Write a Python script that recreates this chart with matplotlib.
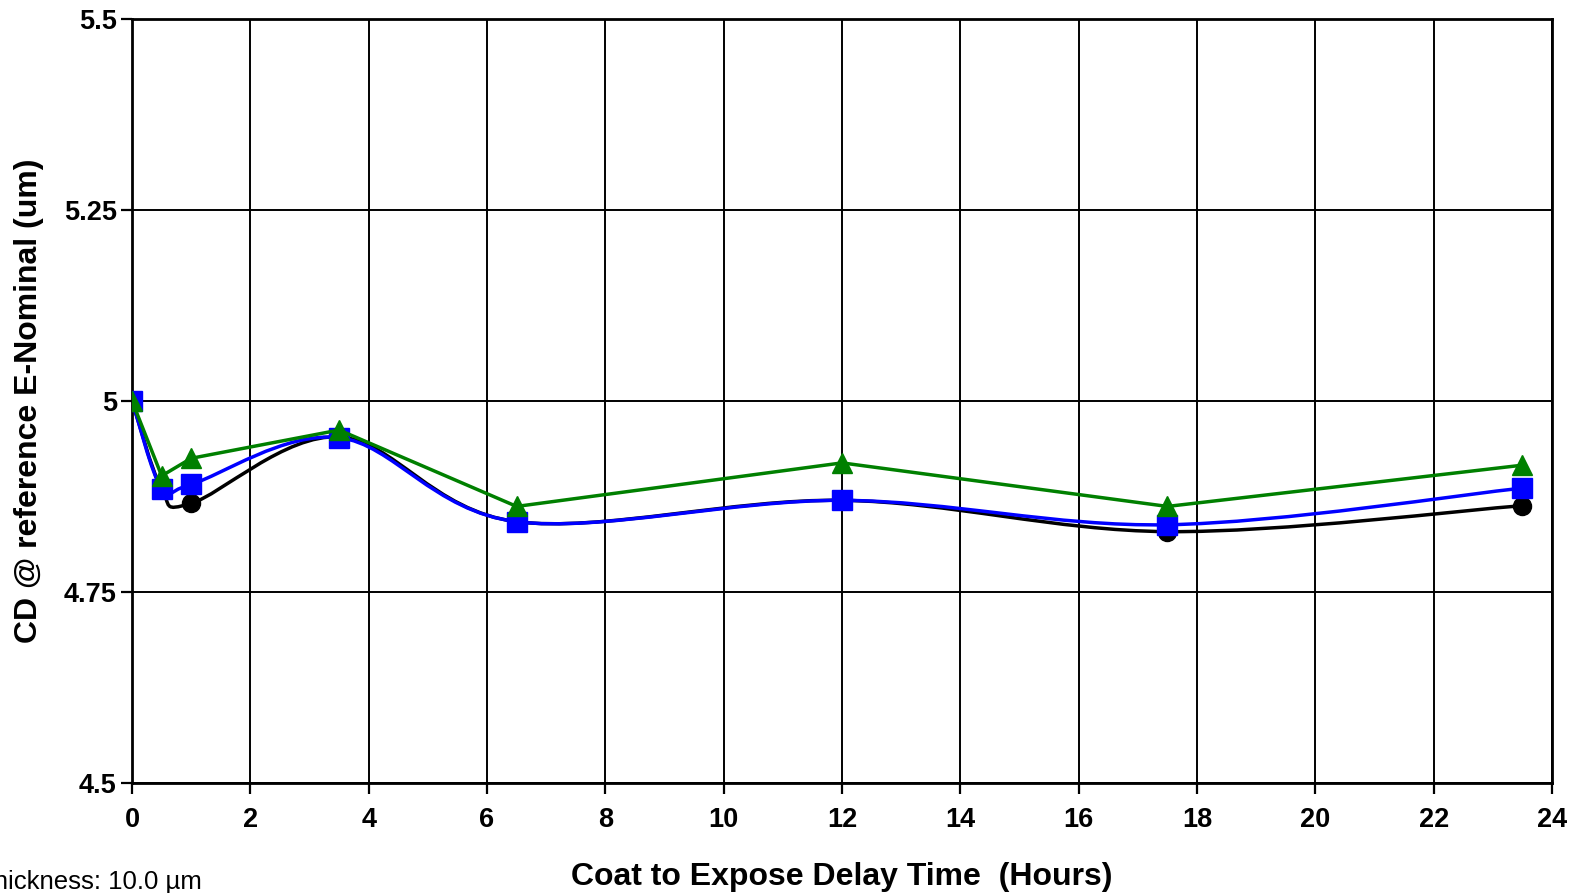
import matplotlib
matplotlib.use("Agg")
import matplotlib.pyplot as plt
from matplotlib.path import Path
from matplotlib.patches import PathPatch

hours = [0, 0.5, 1, 3.5, 6.5, 12, 17.5, 23.5]
cd_black = [5.0, 4.885, 4.866, 4.953, 4.842, 4.870, 4.829, 4.863]
cd_blue = [5.0, 4.885, 4.891, 4.952, 4.842, 4.870, 4.838, 4.886]
cd_green = [5.0, 4.902, 4.925, 4.962, 4.862, 4.919, 4.862, 4.916]

x_ticks = list(range(0, 25, 2))
y_ticks = [4.5, 4.75, 5, 5.25, 5.5]
y_tick_labels = ['4.5', '4.75', '5', '5.25', '5.5']

plt.rcParams['font.family'] = ['Liberation Sans', 'DejaVu Sans']


def smooth_path(xs, ys):
    # Excel-style smoothed line: cubic Bezier through the points
    verts = [(xs[0], ys[0])]
    codes = [Path.MOVETO]
    n = len(xs)
    for i in range(n - 1):
        x0, y0 = (xs[i - 1], ys[i - 1]) if i > 0 else (xs[i], ys[i])
        x1, y1 = xs[i], ys[i]
        x2, y2 = xs[i + 1], ys[i + 1]
        x3, y3 = (xs[i + 2], ys[i + 2]) if i + 2 < n else (x2, y2)
        c1 = (x1 + (x2 - x0) / 6, y1 + (y2 - y0) / 6)
        c2 = (x2 - (x3 - x1) / 6, y2 - (y3 - y1) / 6)
        verts += [c1, c2, (x2, y2)]
        codes += [Path.CURVE4] * 3
    return Path(verts, codes)


fig = plt.figure(figsize=(15.78, 8.93), dpi=100)
ax = fig.add_axes([0.0837, 0.1232, 0.9835 - 0.0837, 0.9787 - 0.1232])

for ys, color, marker, ms in [(cd_black, 'black', 'o', 13), (cd_blue, '#0000FF', 's', 14)]:
    ax.add_patch(PathPatch(smooth_path(hours, ys), fill=False, edgecolor=color, lw=2.5, zorder=3))
    ax.plot(hours, ys, linestyle='none', marker=marker, color=color, markersize=ms, zorder=4)

ax.plot(hours, cd_green, color='#008000', lw=2.5, marker='^', markersize=15, zorder=5)

ax.set_xlim(0, 24)
ax.set_ylim(4.5, 5.5)
ax.set_xticks(x_ticks)
ax.set_yticks(y_ticks)
ax.set_yticklabels(y_tick_labels)
ax.grid(True, color='black', lw=1.4)
ax.set_axisbelow(True)
for s in ax.spines.values():
    s.set_linewidth(2.0)
ax.tick_params(axis='both', direction='out', length=8, width=1.6, labelsize=19.5)
ax.tick_params(axis='x', pad=9)
ax.tick_params(axis='y', pad=3)
for lbl in ax.get_xticklabels() + ax.get_yticklabels():
    lbl.set_fontweight('bold')

ax.set_xlabel('Coat to Expose Delay Time  (Hours)', fontsize=23, fontweight='bold', labelpad=21)
ax.set_ylabel('CD @ reference E-Nominal (um)', fontsize=23, fontweight='bold', labelpad=14)

fig.text(202 / 1578, 1 - 882 / 893, 'Thickness: 10.0 µm', ha='right', va='center', fontsize=18.5)

fig.savefig('out.png', dpi=100)
